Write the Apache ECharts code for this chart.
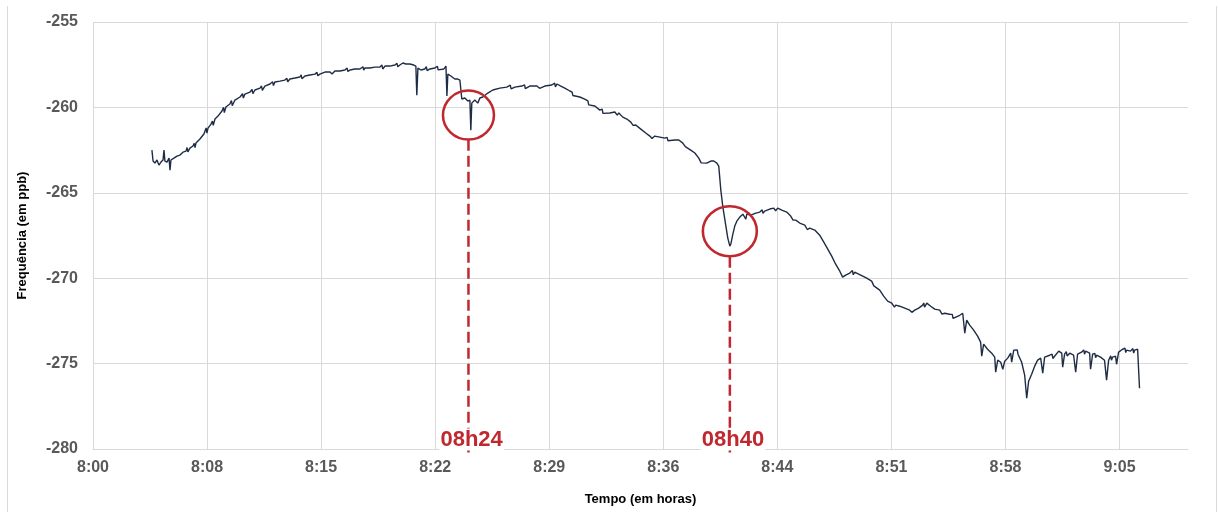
<!DOCTYPE html>
<html>
<head>
<meta charset="utf-8">
<script src="https://cdn.jsdelivr.net/npm/echarts@6/dist/echarts.min.js"></script>
<style>
  html, body { margin: 0; padding: 0; background: #ffffff; }
  #wrap { position: relative; width: 1218px; height: 512px; overflow: hidden; }
  #chart { position: absolute; left: 0; top: 0; width: 1218px; height: 512px; }
  #frame { position: absolute; left: 7px; top: 6px; width: 1208px; height: 520px;
           border-left: 1px solid #d9d9d9; border-right: 1px solid #d9d9d9; pointer-events: none; }
</style>
</head>
<body>
<div id="wrap"><div id="chart"></div><div id="frame"></div></div>
<script>
// time in minutes after 08:00
const timeMin = [
  4.68,4.75,4.87,5.00,5.12,5.25,5.38,5.44,5.50,5.63,5.76,5.82,5.88,6.07,6.26,6.45,6.64,6.83,7.08,7.27,
  7.46,7.71,7.96,8.22,8.41,8.66,8.85,9.10,9.35,9.60,9.92,10.24,10.55,10.87,11.18,11.50,11.81,12.13,12.44,12.76,
  13.07,13.39,13.71,14.02,14.34,14.65,14.97,15.28,15.60,15.92,16.23,16.55,16.86,17.18,17.49,17.81,18.12,18.44,18.75,19.07,
  19.39,19.70,20.02,20.33,20.52,20.71,20.96,21.21,21.34,21.40,21.47,21.66,21.91,22.23,22.54,22.86,23.11,23.24,23.30,23.36,
  23.55,23.80,23.99,24.12,24.24,24.43,24.62,24.75,24.81,24.87,25.06,25.25,25.38,25.57,25.88,26.20,26.64,27.08,27.59,28.03,
  28.53,28.98,29.48,29.92,30.24,30.49,30.74,31.06,31.37,31.69,32.00,32.32,32.64,32.95,33.27,33.58,33.90,34.15,34.40,34.66,
  34.91,35.22,35.54,35.85,36.11,36.42,36.74,37.05,37.37,37.68,37.94,38.19,38.44,38.69,38.95,39.20,39.45,39.70,39.96,40.15,
  40.34,40.46,40.59,40.72,40.91,41.03,41.16,41.22,41.35,41.47,41.60,41.79,41.98,42.10,42.17,42.23,42.48,42.80,43.05,43.36,
  43.68,43.93,44.18,44.44,44.75,45.00,45.32,45.57,45.89,46.20,46.52,46.83,47.09,47.34,47.59,47.84,48.10,48.28,48.47,48.73,
  49.04,49.29,49.55,49.80,50.11,50.37,50.62,50.87,51.12,51.38,51.63,51.88,52.20,52.51,52.83,53.08,53.33,53.59,53.84,54.09,
  54.41,54.72,55.04,55.36,55.67,55.86,55.99,56.11,56.30,56.55,56.80,56.99,57.06,57.18,57.43,57.69,57.88,57.94,58.07,58.26,
  58.39,58.51,58.70,58.89,58.95,59.08,59.20,59.39,59.58,59.77,59.90,60.02,60.21,60.40,60.59,60.78,60.91,61.03,61.35,61.66,
  61.92,62.11,62.17,62.29,62.61,62.86,62.99,63.11,63.36,63.62,63.87,63.93,64.06,64.31,64.56,64.81,64.94,65.07,65.32,65.51,
  65.57,65.70,65.95,66.20,66.45,66.71,66.90,66.96,67.02
];
// frequency offset in ppb
const freqPpb = [
  -262.50,-263.14,-263.26,-263.08,-263.38,-263.20,-263.08,-262.50,-263.14,-263.20,-262.97,-263.67,-263.08,-262.97,-262.85,-262.79,-262.62,-262.56,-262.38,-262.26,
  -262.09,-261.85,-261.56,-261.21,-260.98,-260.68,-260.51,-260.21,-259.98,-259.80,-259.57,-259.39,-259.22,-259.10,-258.98,-258.87,-258.75,-258.63,-258.51,-258.46,
  -258.40,-258.34,-258.28,-258.22,-258.16,-258.10,-258.05,-258.05,-257.93,-257.93,-257.87,-257.87,-257.81,-257.81,-257.75,-257.75,-257.69,-257.69,-257.64,-257.64,
  -257.58,-257.58,-257.52,-257.52,-257.40,-257.46,-257.46,-257.52,-257.58,-259.28,-257.70,-257.81,-257.75,-257.75,-257.69,-257.69,-257.75,-257.58,-259.33,-258.05,
  -258.16,-258.34,-258.34,-258.40,-259.51,-259.45,-259.63,-259.57,-261.33,-259.75,-259.57,-259.75,-259.45,-259.39,-259.16,-258.98,-258.87,-258.81,-258.81,-258.75,
  -258.75,-258.75,-258.75,-258.69,-258.63,-258.75,-258.87,-259.04,-259.28,-259.39,-259.51,-259.75,-259.92,-260.16,-260.27,-260.33,-260.27,-260.33,-260.57,-260.68,
  -260.86,-261.03,-261.27,-261.50,-261.68,-261.68,-261.74,-261.80,-261.85,-261.91,-261.91,-262.09,-262.26,-262.50,-262.67,-262.97,-263.14,-263.26,-263.14,-263.14,
  -263.26,-263.44,-264.84,-265.84,-266.95,-267.65,-268.12,-268.00,-267.42,-266.95,-266.66,-266.42,-266.25,-266.19,-266.54,-266.25,-266.31,-266.19,-266.13,-266.07,
  -265.95,-265.90,-265.90,-266.01,-266.13,-266.36,-266.60,-266.77,-266.89,-267.07,-267.18,-267.48,-267.89,-268.30,-268.71,-269.18,-269.59,-269.94,-269.82,-269.70,
  -269.65,-269.76,-269.88,-270.00,-270.17,-270.41,-270.70,-271.05,-271.34,-271.46,-271.58,-271.64,-271.75,-271.87,-271.87,-271.75,-271.58,-271.46,-271.64,-271.81,
  -271.87,-272.05,-272.11,-272.28,-272.17,-272.05,-273.22,-272.46,-272.75,-273.04,-273.39,-273.74,-274.57,-273.86,-274.16,-274.39,-274.62,-275.50,-274.80,-274.92,
  -275.33,-274.86,-274.68,-274.39,-274.92,-274.21,-274.10,-274.39,-274.92,-275.68,-277.03,-276.03,-275.62,-275.15,-274.80,-274.68,-275.56,-274.62,-274.51,-274.57,
  -274.27,-274.39,-275.21,-274.45,-274.39,-274.51,-275.50,-274.45,-274.33,-274.27,-274.39,-275.33,-274.45,-274.51,-274.62,-274.80,-275.97,-274.80,-274.62,-274.57,
  -275.04,-274.33,-274.16,-274.21,-274.27,-274.21,-274.16,-274.10,-276.44
];
// fine measurement jitter read between the main points (minutes after 08:00, ppb)
const jitterMin = [
  6.90,6.95,7.35,7.40,8.10,8.15,8.50,8.55,9.20,9.25,9.70,9.75,10.40,10.45,11.00,11.05,11.60,11.65,12.30,12.35,
  13.20,13.25,14.10,14.15,15.10,15.15,16.00,16.05,17.00,17.05,18.00,18.05,19.20,19.25,20.15,20.20,22.00,22.05,22.70,22.75,
  27.30,27.35,28.20,28.25,29.10,29.15,30.10,30.15,31.20,31.25,32.20,32.25,33.10,33.15,34.00,34.05,35.00,35.05,36.20,36.25,
  37.20,37.25,38.30,38.35,39.30,39.35,43.20,43.25,44.00,44.05,45.10,45.15,46.00,46.05,48.90,48.95,50.20,50.25,51.50,51.55,
  52.60,52.65,53.40,53.45,54.50,54.55,55.20,55.25,59.30,59.35,61.50,61.55,62.40,62.45,63.50,63.55,64.20,64.25,65.20,65.25,
  66.10,66.15,66.60,66.65
];
const jitterPpb = [
  -262.35,-262.60,-262.10,-262.35,-261.20,-261.50,-260.80,-261.05,-260.00,-260.30,-259.60,-259.90,-259.20,-259.45,-258.95,-259.20,-258.75,-259.00,-258.50,-258.72,
  -258.30,-258.50,-258.10,-258.32,-257.95,-258.15,-257.85,-258.05,-257.70,-257.90,-257.62,-257.82,-257.52,-257.75,-257.42,-257.62,-257.62,-257.85,-257.60,-257.80,
  -258.70,-258.92,-258.68,-258.90,-258.65,-258.88,-258.58,-258.80,-259.10,-259.30,-259.62,-259.85,-260.10,-260.35,-260.20,-260.45,-260.85,-261.05,-261.60,-261.82,
  -261.75,-261.95,-262.10,-262.30,-263.00,-263.25,-266.00,-266.20,-265.82,-266.05,-266.40,-266.60,-266.95,-267.15,-269.55,-269.80,-270.20,-270.45,-271.45,-271.70,
  -271.80,-272.00,-271.45,-271.70,-271.90,-272.10,-272.12,-272.35,-274.20,-274.45,-274.45,-274.70,-274.30,-274.55,-274.20,-274.45,-274.40,-274.65,-274.55,-274.80,
  -274.10,-274.35,-274.12,-274.38
];
// Excel-style axis: first tick 0.96 min after 08:00, step 7.2 min
const xAxisStartMin = 0.96;
const xTickStep = 7.2;
const xAxisSpan = 69.12;
const yMin = -280, yMax = -255, yStep = 5;

// annotations
const annoLabels = ['08h24', '08h40'];
const annoTimes = [24.66, 41.16];
const annoCircleY = [-260.45, -267.25];
const annoCircleSize = [[51, 49], [54, 50]];
const annoLineTop = [-261.9, -268.75];
const annoLineBottom = -280.2;

const FONT = "'Liberation Sans', Arial, sans-serif";
const RED = '#c0282f';
const toX = t => +(t - xAxisStartMin).toFixed(3);

const lineData = timeMin.map((t, i) => [toX(t), freqPpb[i]])
  .concat(jitterMin.map((t, i) => [toX(t), jitterPpb[i]]))
  .sort((a, b) => a[0] - b[0]);

const annoSeries = [];
annoTimes.forEach((t, i) => {
  annoSeries.push({
    type: 'line', silent: true, clip: false, symbol: 'none', z: 4,
    data: [[toX(t), annoLineTop[i]], [toX(t), annoLineBottom]],
    lineStyle: { color: RED, width: 2.5, type: [11, 5], opacity: 1 }
  });
});
annoSeries.push({
  type: 'scatter', silent: true, z: 5,
  data: annoTimes.map((t, i) => ({ value: [toX(t), annoCircleY[i]], symbolSize: annoCircleSize[i] })),
  symbol: 'circle',
  itemStyle: { color: 'rgba(0,0,0,0)', borderColor: RED, borderWidth: 2.5, opacity: 1 }
});
annoSeries.push({
  type: 'scatter', silent: true, z: 6, symbolSize: 1,
  itemStyle: { color: 'rgba(0,0,0,0)', opacity: 1 },
  data: annoTimes.map((t, i) => ({ name: annoLabels[i], value: [toX(t) + 0.2, yMin] })),
  label: {
    show: true, position: 'top', distance: -2, formatter: '{b}', opacity: 1,
    color: RED, fontSize: 22, fontWeight: 'bold', fontFamily: FONT,
    backgroundColor: '#ffffff', padding: [0, 1, 0, 1]
  }
});

const chart = echarts.init(document.getElementById('chart'), null, { renderer: 'canvas' });
chart.setOption({
  animation: false,
  backgroundColor: '#ffffff',
  grid: { left: 93, right: 30, top: 22, bottom: 63 },
  xAxis: {
    type: 'value', min: 0, max: xAxisSpan, interval: xTickStep,
    name: 'Tempo (em horas)', nameLocation: 'middle', nameGap: 44,
    nameTextStyle: { fontFamily: FONT, fontSize: 13, fontWeight: 'bold', color: '#000000' },
    axisLine: { show: true, lineStyle: { color: '#d9d9d9', width: 1 } },
    axisTick: { show: false },
    axisLabel: {
      margin: 11, fontFamily: FONT, fontSize: 16, fontWeight: 'bold', color: '#595959',
      showMaxLabel: false,
      formatter: v => {
        const m = 480 + xAxisStartMin + v + 1e-6;
        const h = Math.floor(m / 60);
        const mm = Math.floor(m % 60);
        return h + ':' + String(mm).padStart(2, '0');
      }
    },
    splitLine: { show: true, showMaxLine: false, lineStyle: { color: '#d9d9d9', width: 1 } }
  },
  yAxis: {
    type: 'value', min: yMin, max: yMax, interval: yStep,
    name: 'Frequência (em ppb)', nameLocation: 'middle', nameGap: 64, nameRotate: 90,
    nameTextStyle: { fontFamily: FONT, fontSize: 13, fontWeight: 'bold', color: '#000000' },
    axisLine: { show: false }, axisTick: { show: false },
    axisLabel: { margin: 15, fontFamily: FONT, fontSize: 16, fontWeight: 'bold', color: '#595959' },
    splitLine: { show: true, lineStyle: { color: '#d9d9d9', width: 1 } }
  },
  series: [{
    type: 'line', data: lineData, symbol: 'none', z: 3,
    lineStyle: { color: '#1e2d45', width: 1.4 }
  }].concat(annoSeries)
});
</script>
</body>
</html>
